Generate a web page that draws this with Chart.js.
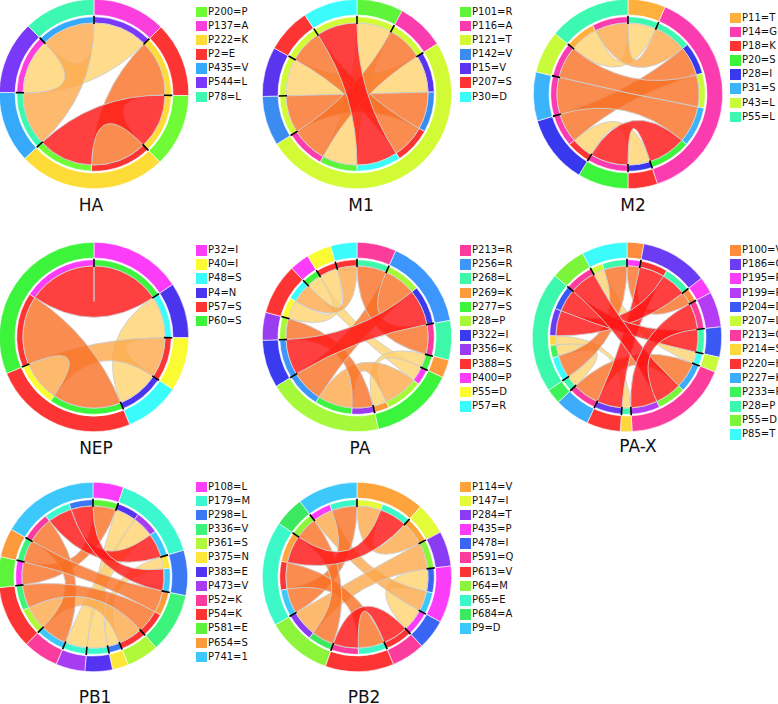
<!DOCTYPE html>
<html>
<head>
<meta charset="utf-8">
<script src="https://cdn.jsdelivr.net/npm/chart.js@4.4.1/dist/chart.umd.min.js"></script>
<style>
  body { margin: 0; background: #fff; width: 778px; height: 704px; overflow: hidden; position: relative; font-family: "DejaVu Sans", sans-serif; }
  .wheel { position: absolute; }
  .legend { position: absolute; font-size: 10px; color: #111; }
  .legend .row { height: 14.2px; display: flex; align-items: flex-start; white-space: nowrap; }
  .legend .sw { width: 10.5px; height: 10.5px; margin-right: 1.5px; flex: none; }
  .legend .txt { line-height: 10.5px; }
  .title { position: absolute; font-size: 17px; line-height: 17px; transform: translateX(-50%); color: #111; white-space: nowrap; }
</style>
</head>
<body>
<script>
/** --- DATA --- **/
const panelNames = ['HA', 'M1', 'M2', 'NEP', 'PA', 'PA-X', 'PB1', 'PB2'];

// sites in ring order (clockwise from 12 o'clock), colours, legend order, links [a, b, size, level]
const haSites = ['P137', 'P2', 'P200', 'P222', 'P435', 'P544', 'P78'];
const haColors = ['#fb3fdf', '#fc3434', '#6ffb35', '#fddc38', '#36a9fb', '#7a38f8', '#3df8b0'];
const haLegend = ['P200=P', 'P137=A', 'P222=K', 'P2=E', 'P435=V', 'P544=L', 'P78=L'];
const haLinks = [['P137', 'P544', 45, 'y'], ['P2', 'P222', 46, 'o'], ['P200', 'P222', 45, 'r'], ['P435', 'P78', 44, 'lo']];

const m1Sites = ['P101', 'P116', 'P121', 'P142', 'P15', 'P207', 'P30'];
const m1Colors = ['#5ef43a', '#fb3cae', '#d2fb35', '#3a8cf0', '#5a34ee', '#fc3434', '#3cfbfb'];
const m1Legend = ['P101=R', 'P116=A', 'P121=T', 'P142=V', 'P15=V', 'P207=S', 'P30=D'];
const m1Links = [['P121', 'P15', 31, 'y'], ['P121', 'P142', 31, 'o'], ['P121', 'P207', 28, 'o'],
  ['P121', 'P30', 34, 'r'], ['P121', 'P101', 29, 'y'], ['P121', 'P116', 30, 'o']];

const m2Sites = ['P11', 'P14', 'P18', 'P20', 'P28', 'P31', 'P43', 'P55'];
const m2Colors = ['#fdb03c', '#fb3cb0', '#fc3434', '#3cf43c', '#3838ee', '#3cb4fb', '#c8fb3a', '#3cf8b0'];
const m2Legend = ['P11=T', 'P14=G', 'P18=K', 'P20=S', 'P28=I', 'P31=S', 'P43=L', 'P55=L'];
const m2Links = [['P11', 'P55', 23, 'y'], ['P14', 'P55', 27, 'lo'], ['P18', 'P28', 18, 'y'], ['P14', 'P28', 24, 'o'],
  ['P14', 'P43', 26, 'o'], ['P14', 'P31', 30, 'o'], ['P14', 'P20', 31, 'r']];

const nepSites = ['P32', 'P4', 'P40', 'P48', 'P57', 'P60'];
const nepColors = ['#fb3cf8', '#4a34ee', '#fbfb34', '#3cfbfb', '#fc3434', '#3cf43c'];
const nepLegend = ['P32=I', 'P40=I', 'P48=S', 'P4=N', 'P57=S', 'P60=S'];
const nepLinks = [['P57', 'P60', 56, 'o'], ['P32', 'P60', 56, 'r'], ['P40', 'P57', 33, 'lo'], ['P4', 'P48', 34, 'y']];

const paSites = ['P213', 'P256', 'P268', 'P269', 'P277', 'P28', 'P322', 'P356', 'P388', 'P400', 'P55', 'P57'];
const paColors = ['#fb3c9c', '#3c96fb', '#3cf8a8', '#fd9a3c', '#3cf43c', '#a6f83a', '#3a3aee', '#9a3cf0',
  '#fc3434', '#fb3cf8', '#fbfb34', '#3cfbfb'];
const paLegend = ['P213=R', 'P256=R', 'P268=L', 'P269=K', 'P277=S', 'P28=P', 'P322=I', 'P356=K',
  'P388=S', 'P400=P', 'P55=D', 'P57=R'];
const paLinks = [['P28', 'P356', 17, 'o'], ['P277', 'P400', 12, 'y'], ['P277', 'P28', 28, 'lo'], ['P277', 'P269', 11, 'y'],
  ['P256', 'P28', 26, 'o'], ['P256', 'P322', 29, 'r'], ['P213', 'P268', 24, 'o'], ['P388', 'P55', 15, 'y'],
  ['P388', 'P57', 16, 'lo']];

const paxSites = ['P100', 'P186', 'P195', 'P199', 'P204', 'P207', 'P213', 'P214', 'P220', 'P227', 'P233',
  'P28', 'P55', 'P85'];
const paxColors = ['#fd8c3c', '#6a3cf4', '#fb3cf8', '#b43cf4', '#3a58f4', '#c8fb3a', '#fb3c9c', '#fdd83a',
  '#fc3434', '#3cacfb', '#3cf45a', '#3cf8ac', '#7cf43a', '#3cfbfb'];
const paxLegend = ['P100=V', 'P186=G', 'P195=R', 'P199=R', 'P204=D', 'P207=L', 'P213=G', 'P214=S',
  'P220=H', 'P227=K', 'P233=P', 'P28=P', 'P55=D', 'P85=T'];
const paxLinks = [['P100', 'P195', 10, 'o'], ['P186', 'P220', 20, 'r'], ['P207', 'P85', 9, 'y'], ['P85', 'P28', 18, 'o'],
  ['P233', 'P28', 9, 'y'], ['P214', 'P28', 7, 'y'], ['P186', 'P28', 20, 'r'], ['P204', 'P28', 18, 'r'],
  ['P213', 'P227', 21, 'o'], ['P213', 'P55', 21, 'r'], ['P199', 'P213', 21, 'r']];

const pb1Sites = ['P108', 'P179', 'P298', 'P336', 'P361', 'P375', 'P383', 'P473', 'P52', 'P54', 'P581',
  'P654', 'P741'];
const pb1Colors = ['#fb3cf8', '#3cf8d0', '#3a78f4', '#3cf47c', '#b0f83a', '#fde83a', '#5434f0', '#a83cf0',
  '#fb3c9c', '#fc3434', '#5cf43a', '#fd9a3c', '#3cc8fb'];
const pb1Legend = ['P108=L', 'P179=M', 'P298=L', 'P336=V', 'P361=S', 'P375=N', 'P383=E', 'P473=V',
  'P52=K', 'P54=K', 'P581=E', 'P654=S', 'P741=1'];
const pb1Links = [['P108', 'P581', 19, 'o'], ['P179', 'P383', 17, 'y'], ['P179', 'P473', 18, 'y'], ['P52', 'P741', 22, 'o'],
  ['P179', 'P741', 20, 'r'], ['P298', 'P375', 10, 'y'], ['P298', 'P741', 18, 'r'], ['P336', 'P654', 18, 'o'],
  ['P361', 'P54', 20, 'lo'], ['P336', 'P54', 19, 'o']];

const pb2Sites = ['P114', 'P147', 'P284', 'P435', 'P478', 'P591', 'P613', 'P64', 'P65', 'P684', 'P9'];
const pb2Colors = ['#fda43c', '#e4fb3a', '#8a3cf4', '#fb3cf8', '#3a64f4', '#fb3c9c', '#fc3434', '#8cf43a',
  '#3cf8c8', '#3ce860', '#3cc8fb'];
const pb2Legend = ['P114=V', 'P147=I', 'P284=T', 'P435=P', 'P478=I', 'P591=Q', 'P613=V', 'P64=M',
  'P65=E', 'P684=A', 'P9=D'];
const pb2Links = [['P114', 'P147', 19, 'lo'], ['P435', 'P478', 18, 'y'], ['P435', 'P9', 16, 'lo'], ['P65', 'P9', 20, 'o'],
  ['P613', 'P65', 21, 'o'], ['P114', 'P65', 22, 'r'], ['P591', 'P613', 20, 'r'], ['P64', 'P684', 18, 'o'],
  ['P284', 'P64', 21, 'lo']];

const panelData = [
  [haSites, haColors, haLegend, haLinks],
  [m1Sites, m1Colors, m1Legend, m1Links],
  [m2Sites, m2Colors, m2Legend, m2Links],
  [nepSites, nepColors, nepLegend, nepLinks],
  [paSites, paColors, paLegend, paLinks],
  [paxSites, paxColors, paxLegend, paxLinks],
  [pb1Sites, pb1Colors, pb1Legend, pb1Links],
  [pb2Sites, pb2Colors, pb2Legend, pb2Links],
];

/** --- LAYOUT & STYLE --- **/
const panelLayout = [
  { cx: 94, cy: 94, lx: 196, ly: 6.5, tx: 91, ty: 197 },
  { cx: 357, cy: 94, lx: 460, ly: 6.5, tx: 361, ty: 197 },
  { cx: 628, cy: 94, lx: 730, ly: 12.5, tx: 633, ty: 197 },
  { cx: 94, cy: 337, lx: 196, ly: 245, tx: 96, ty: 440 },
  { cx: 357, cy: 337, lx: 460, ly: 245, tx: 360, ty: 440 },
  { cx: 627, cy: 337, lx: 730, ly: 245, tx: 638, ty: 438 },
  { cx: 93, cy: 577, lx: 196, ly: 481.5, tx: 95, ty: 689 },
  { cx: 357, cy: 577, lx: 460, ly: 481.5, tx: 364, ty: 689 },
];
const chordFill = { y: 'rgba(254,211,111,0.8)', lo: 'rgba(253,167,74,0.8)', o: 'rgba(249,111,36,0.8)', r: 'rgba(255,22,22,0.82)' };
const levelRank = { y: 0, lo: 1, o: 2, r: 3 };

/** --- CHORD PLUGIN --- **/
function makeChords(links, ends) {
  return {
    id: 'chords',
    afterDatasetsDraw(chart) {
      const ctx = chart.ctx;
      const inner = chart.getDatasetMeta(2).data;
      const outer = chart.getDatasetMeta(0).data;
      const x = inner[0].x, y = inner[0].y, r = inner[0].innerRadius;
      const order = links.map((l, i) => i).sort((a, b) => levelRank[links[a][3]] - levelRank[links[b][3]]);

      ctx.save();
      order.forEach(i => {
        const p = inner[ends[i][0]], q = inner[ends[i][1]];
        ctx.beginPath();
        ctx.arc(x, y, r, p.startAngle, p.endAngle);
        ctx.quadraticCurveTo(x, y, x + r * Math.cos(q.startAngle), y + r * Math.sin(q.startAngle));
        ctx.arc(x, y, r, q.startAngle, q.endAngle);
        ctx.quadraticCurveTo(x, y, x + r * Math.cos(p.startAngle), y + r * Math.sin(p.startAngle));
        ctx.closePath();
        ctx.fillStyle = chordFill[links[i][3]];
        ctx.fill();
        ctx.strokeStyle = 'rgba(205,205,205,0.9)';
        ctx.lineWidth = 1;
        ctx.stroke();
      });

      // black ticks on the inner ring at each site boundary
      ctx.strokeStyle = '#000';
      ctx.lineWidth = 1.6;
      outer.forEach(arc => {
        const a = arc.startAngle;
        ctx.beginPath();
        ctx.moveTo(x + (r - 1) * Math.cos(a), y + (r - 1) * Math.sin(a));
        ctx.lineTo(x + (inner[0].outerRadius + 1) * Math.cos(a), y + (inner[0].outerRadius + 1) * Math.sin(a));
        ctx.stroke();
      });
      ctx.restore();
    }
  };
}

/** --- RENDER --- **/
function renderPanel(name, i) {
  const [sites, colors, legend, links] = panelData[i];
  const lay = panelLayout[i];

  // sub-arcs per site, in link order, coloured by the partner site
  const parts = sites.map(() => []);
  links.forEach((l, li) => {
    const a = sites.indexOf(l[0]), b = sites.indexOf(l[1]);
    parts[a].push({ link: li, other: b, value: l[2] });
    parts[b].push({ link: li, other: a, value: l[2] });
  });
  const innerValues = [], innerColors = [], ends = links.map(() => []);
  parts.forEach(list => list.forEach(p => {
    ends[p.link].push(innerValues.length);
    innerValues.push(p.value);
    innerColors.push(colors[p.other]);
  }));
  const totals = parts.map(list => list.reduce((s, p) => s + p.value, 0));

  const canvas = document.createElement('canvas');
  canvas.className = 'wheel';
  canvas.width = 190;
  canvas.height = 190;
  canvas.style.left = `${lay.cx - 95}px`;
  canvas.style.top = `${lay.cy - 95}px`;
  document.body.appendChild(canvas);

  new Chart(canvas, {
    type: 'doughnut',
    data: {
      labels: sites,
      datasets: [
        { data: totals, backgroundColor: colors, borderColor: '#fff', borderWidth: 0.6, weight: 15 },
        { data: [1], backgroundColor: 'rgba(0,0,0,0)', borderWidth: 0, weight: 1.6 },
        { data: innerValues, backgroundColor: innerColors, borderColor: '#fff', borderWidth: 0.6, weight: 6 },
      ]
    },
    options: {
      responsive: false,
      animation: false,
      cutout: '75%',
      layout: { padding: 0 },
      plugins: { legend: { display: false }, tooltip: { enabled: false } }
    },
    plugins: [makeChords(links, ends)]
  });

  const box = document.createElement('div');
  box.className = 'legend';
  box.style.left = `${lay.lx}px`;
  box.style.top = `${lay.ly}px`;
  box.innerHTML = legend.map(label => `
    <div class="row">
      <span class="sw" style="background:${colors[sites.indexOf(label.split('=')[0])]}"></span>
      <span class="txt">${label}</span>
    </div>`).join('');
  document.body.appendChild(box);

  const title = document.createElement('div');
  title.className = 'title';
  title.style.left = `${lay.tx}px`;
  title.style.top = `${lay.ty}px`;
  title.textContent = name;
  document.body.appendChild(title);
}

panelNames.forEach(renderPanel);
</script>
</body>
</html>
